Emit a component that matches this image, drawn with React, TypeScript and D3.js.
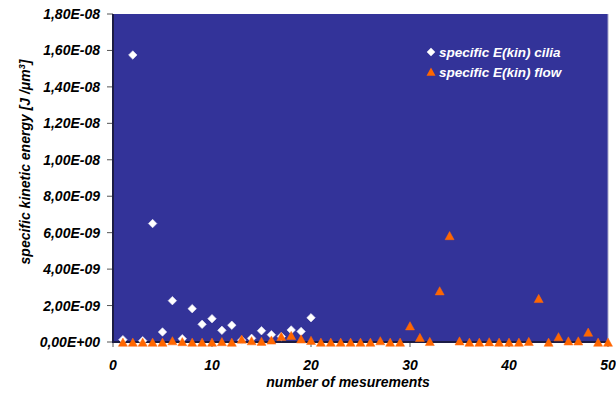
import React from "react";
import * as d3 from "d3";

const ciliaX = [1, 2, 3, 4, 5, 6, 7, 8, 9, 10, 11, 12, 13, 14, 15, 16, 17, 18, 19, 20];
const ciliaY = [0.13e-9, 15.75e-9, 0.07e-9, 6.5e-9, 0.55e-9, 2.27e-9, 0.18e-9, 1.83e-9, 0.97e-9, 1.28e-9,
  0.64e-9, 0.92e-9, 0.1e-9, 0.2e-9, 0.62e-9, 0.4e-9, 0.3e-9, 0.66e-9, 0.58e-9, 1.33e-9];

const flowX = Array.from({ length: 50 }, (_, i) => i + 1);
const flowY = [0, 0, 0, 0, 0, 0.08e-9, 0.03e-9, 0, 0, 0,
  0.03e-9, 0, 0.17e-9, 0.08e-9, 0.05e-9, 0.12e-9, 0.32e-9, 0.37e-9, 0.18e-9, 0.1e-9,
  0, 0, 0, 0, 0, 0, 0.08e-9, 0, 0, 0.9e-9,
  0.26e-9, 0.04e-9, 2.82e-9, 5.85e-9, 0.07e-9, 0, 0, 0.02e-9, 0, 0,
  0, 0.04e-9, 2.4e-9, 0, 0.3e-9, 0.07e-9, 0.07e-9, 0.55e-9, 0, 0];

const xTicks = [0, 10, 20, 30, 40, 50];
const yTicks = [0, 2e-9, 4e-9, 6e-9, 8e-9, 10e-9, 12e-9, 14e-9, 16e-9, 18e-9];

const seriesNames = ["specific E(kin) cilia", "specific E(kin) flow"];

const FONT = "'Liberation Sans', Arial, sans-serif";

function fmt(v: number): string {
  if (v === 0) return "0,00E+00";
  const s = v.toExponential(2);
  const [m, e] = s.split("e");
  const en = parseInt(e, 10);
  const sign = en < 0 ? "-" : "+";
  const abs = Math.abs(en).toString().padStart(2, "0");
  return m.replace(".", ",") + "E" + sign + abs;
}

export default function App() {
  const W = 616, H = 394;
  const x = d3.scaleLinear().domain([0, 50]).range([113, 608]);
  const y = d3.scaleLinear().domain([0, 1.8e-8]).range([342, 14]);
  const diamond = d3.symbol().type(d3.symbolDiamond2 || d3.symbolDiamond).size(46)();
  const tri = "M0,-4.4L4.5,3.8L-4.5,3.8Z";

  return (
    <div style={{ position: "absolute", left: 0, top: 0 }}>
      <svg width={W} height={H} style={{ display: "block" }} fontFamily={FONT}>
        <rect x={0} y={0} width={W} height={H} fill="#ffffff" />
        <rect x={x(0)} y={y(1.8e-8)} width={x(50) - x(0)} height={y(0) - y(1.8e-8)} fill="#333399" />
        <line x1={x(50)} x2={x(50)} y1={y(1.8e-8)} y2={y(0)} stroke="#a8a8cc" strokeWidth={1} />
        {yTicks.map((t) => (
          <g key={"yt" + t}>
            <line x1={x(0) - 6} x2={x(0)} y1={y(t)} y2={y(t)} stroke="#555" strokeWidth={1} />
            <text x={100} y={y(t)} dy="0.36em" textAnchor="end" fontSize={14} fontWeight="bold" fontStyle="italic" fill="#000">
              {fmt(t)}
            </text>
          </g>
        ))}
        {xTicks.map((t) => (
          <g key={"xt" + t}>
            <line x1={x(t)} x2={x(t)} y1={y(0)} y2={y(0) + 5} stroke="#555" strokeWidth={1} />
            <text x={x(t)} y={370} textAnchor="middle" fontSize={14} fontWeight="bold" fontStyle="italic" fill="#000">
              {t}
            </text>
          </g>
        ))}
        <line x1={x(0)} x2={x(0)} y1={y(1.8e-8)} y2={y(0) + 1} stroke="#1c1c44" strokeWidth={2} />
        <line x1={x(0)} x2={x(50)} y1={y(0)} y2={y(0)} stroke="#1c1c44" strokeWidth={2} />

        {ciliaX.map((cx, i) => (
          <path key={"c" + i} d={diamond} transform={`translate(${x(cx)},${y(ciliaY[i])})`} fill="#ffffff" stroke="#e8e8f4" strokeWidth={0.6} />
        ))}
        {flowX.map((fx, i) => (
          <path key={"f" + i} d={tri} transform={`translate(${x(fx)},${y(flowY[i]) + 0.5})`} fill="#ff6600" stroke="#ff6a10" strokeWidth={0.5} />
        ))}

        <path d={diamond} transform="translate(431,52)" fill="#ffffff" />
        <text x={439} y={52} dy="0.36em" fontSize={13.5} fontWeight="bold" fontStyle="italic" fill="#ffffff">{seriesNames[0]}</text>
        <path d={tri} transform="translate(431,72)" fill="#ff6600" />
        <text x={439} y={72} dy="0.36em" fontSize={13.5} fontWeight="bold" fontStyle="italic" fill="#ffffff">{seriesNames[1]}</text>

        <text x={348} y={387} textAnchor="middle" fontSize={14} fontWeight="bold" fontStyle="italic" fill="#000">
          number of mesurements
        </text>
        <text transform="translate(30,162) rotate(-90)" textAnchor="middle" fontSize={14} fontWeight="bold" fontStyle="italic" fill="#000">
          specific kinetic energy [J /μm<tspan dy="-5" fontSize={9}>3</tspan><tspan dy="5">]</tspan>
        </text>
      </svg>
    </div>
  );
}
